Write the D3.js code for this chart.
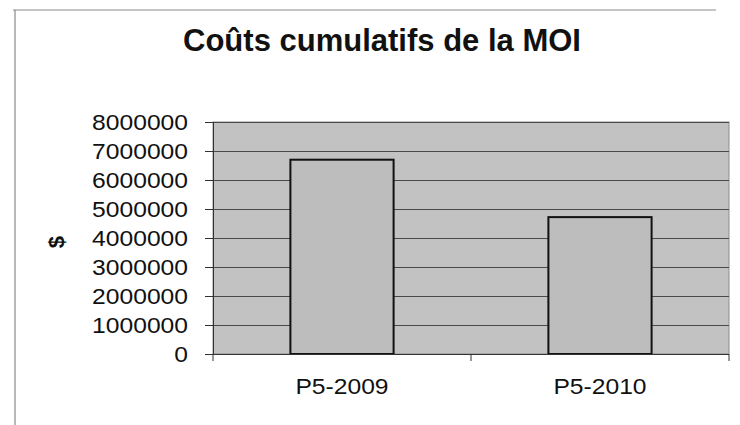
<!DOCTYPE html>
<html>
<head>
<meta charset="utf-8">
<script src="https://cdn.jsdelivr.net/npm/d3@7"></script>
<style>
  body { margin: 0; background: #fff; }
  text { font-family: "Liberation Sans", Arial, sans-serif; fill: #111; }
</style>
</head>
<body>
<div id="chart"></div>
<script>
// Chart data
var categories = ["P5-2009", "P5-2010"];
var values = [6700000, 4720000];
var yTicks = [0, 1000000, 2000000, 3000000, 4000000, 5000000, 6000000, 7000000, 8000000];

// Chart parameters
var properties = {
    width: 740,
    height: 425,
    plot: { left: 213, right: 729, top: 122, bottom: 354 }
};

var svg = d3.select("#chart")
    .append("svg")
    .attr("width", properties.width)
    .attr("height", properties.height);

// Outer chart frame (only top and left edges visible in the scan)
svg.append("line").attr("x1", 13).attr("x2", 716).attr("y1", 10).attr("y2", 10)
    .attr("stroke", "#8a8a8a").attr("stroke-width", 1.2);
svg.append("line").attr("x1", 15).attr("x2", 15).attr("y1", 10).attr("y2", 425)
    .attr("stroke", "#8a8a8a").attr("stroke-width", 1.2);

// Title
svg.append("text")
    .attr("x", 382)
    .attr("y", 51)
    .attr("text-anchor", "middle")
    .attr("font-size", 31)
    .attr("font-weight", "bold")
    .text("Coûts cumulatifs de la MOI");

// Scales
var xScale = d3.scaleBand()
    .domain(categories)
    .range([properties.plot.left, properties.plot.right])
    .paddingInner(0.6)
    .paddingOuter(0.3);

var yScale = d3.scaleLinear()
    .domain([0, 8000000])
    .range([properties.plot.bottom, properties.plot.top]);

// Plot area background
svg.append("rect")
    .attr("x", properties.plot.left)
    .attr("y", properties.plot.top)
    .attr("width", properties.plot.right - properties.plot.left)
    .attr("height", properties.plot.bottom - properties.plot.top)
    .attr("fill", "#c2c2c2")
    .attr("stroke", "#8c8c8c")
    .attr("stroke-width", 1);

// Gridlines
svg.append("g")
    .selectAll("line")
    .data(yTicks.slice(1))
    .enter()
    .append("line")
    .attr("x1", properties.plot.left)
    .attr("x2", properties.plot.right)
    .attr("y1", function (d) { return yScale(d) + 0.5; })
    .attr("y2", function (d) { return yScale(d) + 0.5; })
    .attr("stroke", "#4a4a4a")
    .attr("stroke-width", 1);

// Bars
svg.append("g")
    .selectAll("rect")
    .data(values)
    .enter()
    .append("rect")
    .attr("x", function (d, i) { return xScale(categories[i]); })
    .attr("y", function (d) { return yScale(d); })
    .attr("width", xScale.bandwidth())
    .attr("height", function (d) { return yScale(0) - yScale(d); })
    .attr("fill", "#bdbdbd")
    .attr("stroke", "#111")
    .attr("stroke-width", 2);

// Y axis
var yAxis = svg.append("g")
    .attr("transform", "translate(" + properties.plot.left + ",0)")
    .call(d3.axisLeft(yScale).tickValues(yTicks).tickFormat(d3.format("d")).tickSize(8).tickPadding(17));
yAxis.select(".domain").attr("stroke", "#333");
yAxis.selectAll(".tick line").attr("stroke", "#333");
yAxis.selectAll("text")
    .attr("font-size", 22)
    .attr("fill", "#111")
    .attr("dy", "0.36em");

// X axis line and tick marks at band boundaries
svg.append("line")
    .attr("x1", properties.plot.left).attr("x2", properties.plot.right)
    .attr("y1", yScale(0) + 0.5).attr("y2", yScale(0) + 0.5)
    .attr("stroke", "#333");
var boundaries = [xScale.range()[0]].concat(categories.map(function (c, i) {
    return xScale.range()[0] + xScale.step() * (i + 1);
}));
svg.append("g")
    .selectAll("line")
    .data(boundaries)
    .enter()
    .append("line")
    .attr("x1", function (d) { return d; })
    .attr("x2", function (d) { return d; })
    .attr("y1", yScale(0))
    .attr("y2", yScale(0) + 7)
    .attr("stroke", "#333");

// X labels
svg.append("g")
    .selectAll("text")
    .data(categories)
    .enter()
    .append("text")
    .attr("class", "xlabel")
    .attr("x", function (d) { return xScale(d) + xScale.bandwidth() / 2; })
    .attr("y", 394)
    .attr("text-anchor", "middle")
    .attr("font-size", 22)
    .text(function (d) { return d; });

// Y axis title
svg.append("text")
    .attr("transform", "translate(64,242) rotate(-90)")
    .attr("text-anchor", "middle")
    .attr("font-size", 22)
    .attr("font-weight", "bold")
    .text("$");

// Slight horizontal stretch of the scanned labels
svg.selectAll(".tick text, .xlabel").each(function () {
    var w = this.getComputedTextLength();
    d3.select(this).attr("textLength", w * 1.12).attr("lengthAdjust", "spacingAndGlyphs");
});
</script>
</body>
</html>
